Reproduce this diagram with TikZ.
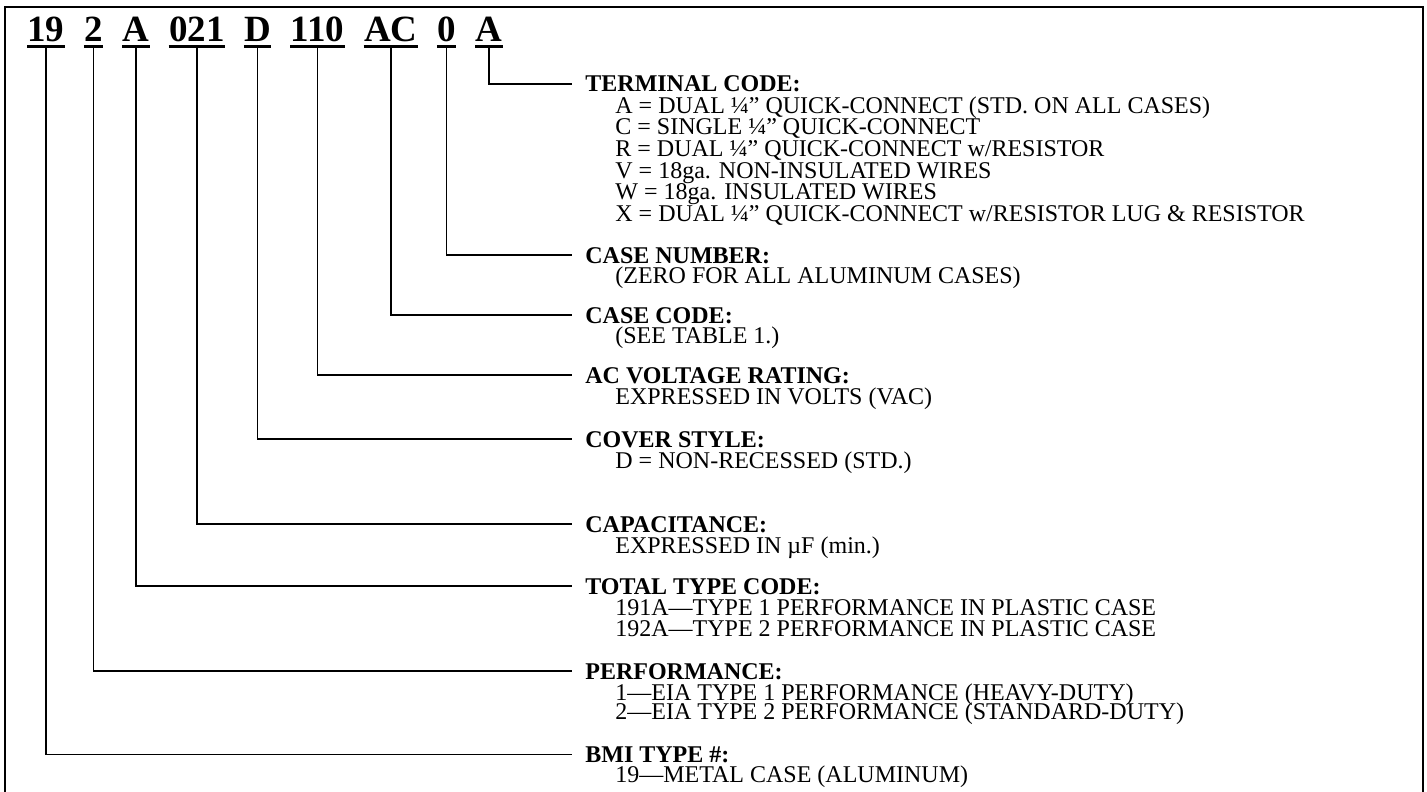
\documentclass[tikz,border=0pt]{standalone}
\usepackage{fontspec}
\setmainfont{Liberation Serif}
\usetikzlibrary{positioning}

\begin{document}
\begin{tikzpicture}[x=0.5pt,y=-0.5pt]
  \tikzstyle{codebox}=[inner sep=0pt,font=\fontsize{18.5}{22}\selectfont\bfseries]
  \tikzstyle{ttl}=[inner xsep=6.5pt,inner ysep=0pt,anchor=base west,font=\fontsize{12}{12}\selectfont\bfseries]
  \tikzstyle{itm}=[inner sep=0pt,font=\fontsize{12}{12}\selectfont]
  \tikzstyle{uline}=[line width=1.5pt]
  \tikzstyle{wire}=[line width=0.8pt]
  \tikzstyle{boxline}=[line width=1pt]
  \useasboundingbox (0,0) rectangle (1427,791);
  \draw[boxline] (5,820) -- (5,7) -- (1423,7) -- (1423,820);
  % part number
  \node[codebox,anchor=base west] (c1) at (27,42) {19};
  \node[codebox,base right=9.5pt of c1] (c2) {2};
  \node[codebox,base right=9.5pt of c2] (c3) {A};
  \node[codebox,base right=9.5pt of c3] (c4) {021};
  \node[codebox,base right=9.5pt of c4] (c5) {D};
  \node[codebox,base right=9.5pt of c5] (c6) {110};
  \node[codebox,base right=9.5pt of c6] (c7) {AC};
  \node[codebox,base right=9.5pt of c7] (c8) {0};
  \node[codebox,base right=9.5pt of c8] (c9) {A};
  \foreach \c in {c1,c2,c3,c4,c5,c6,c7,c8,c9}
    \draw[uline] ([yshift=-2pt]\c.south west) -- ([yshift=-2pt]\c.south east);
  % terminal code
  \node[ttl] (t1) at (572,92) {TERMINAL CODE:};
  \node[itm,below right=10.75pt and 21.5pt of t1.base west,anchor=base west] (t1a) {A = DUAL ¼” QUICK-CONNECT (STD. ON ALL CASES)};
  \node[itm,below=10.75pt of t1a.base west,anchor=base west] (t1b) {C = SINGLE ¼” QUICK-CONNECT};
  \node[itm,below=10.75pt of t1b.base west,anchor=base west] (t1c) {R = DUAL ¼” QUICK-CONNECT w/RESISTOR};
  \node[itm,below=10.75pt of t1c.base west,anchor=base west] (t1d) {V = 18ga. NON-INSULATED WIRES};
  \node[itm,below=10.75pt of t1d.base west,anchor=base west] (t1e) {W = 18ga. INSULATED WIRES};
  \node[itm,below=10.75pt of t1e.base west,anchor=base west] (t1f) {X = DUAL ¼” QUICK-CONNECT w/RESISTOR LUG \& RESISTOR};
  % case number
  \node[ttl] (t2) at (572,263) {CASE NUMBER:};
  \node[itm,below right=10pt and 21.5pt of t2.base west,anchor=base west] (t2a) {(ZERO FOR ALL ALUMINUM CASES)};
  % case code
  \node[ttl] (t3) at (572,323) {CASE CODE:};
  \node[itm,below right=10pt and 21.5pt of t3.base west,anchor=base west] (t3a) {(SEE TABLE 1.)};
  % voltage
  \node[ttl] (t4) at (572,383) {AC VOLTAGE RATING:};
  \node[itm,below right=10.5pt and 21.5pt of t4.base west,anchor=base west] (t4a) {EXPRESSED IN VOLTS (VAC)};
  % cover
  \node[ttl] (t5) at (572,447) {COVER STYLE:};
  \node[itm,below right=10.5pt and 21.5pt of t5.base west,anchor=base west] (t5a) {D = NON-RECESSED (STD.)};
  % capacitance
  \node[ttl] (t6) at (572,532) {CAPACITANCE:};
  \node[itm,below right=10.5pt and 21.5pt of t6.base west,anchor=base west] (t6a) {EXPRESSED IN µF (min.)};
  % total type
  \node[ttl] (t7) at (572,594) {TOTAL TYPE CODE:};
  \node[itm,below right=10.5pt and 21.5pt of t7.base west,anchor=base west] (t7a) {191A—TYPE 1 PERFORMANCE IN PLASTIC CASE};
  \node[itm,below=10.5pt of t7a.base west,anchor=base west] (t7b) {192A—TYPE 2 PERFORMANCE IN PLASTIC CASE};
  % performance
  \node[ttl] (t8) at (572,679) {PERFORMANCE:};
  \node[itm,below right=10.5pt and 21.5pt of t8.base west,anchor=base west] (t8a) {1—EIA TYPE 1 PERFORMANCE (HEAVY-DUTY)};
  \node[itm,below=9.5pt of t8a.base west,anchor=base west] (t8b) {2—EIA TYPE 2 PERFORMANCE (STANDARD-DUTY)};
  % bmi type
  \node[ttl] (t9) at (572,762) {BMI TYPE \#:};
  \node[itm,below right=10pt and 21.5pt of t9.base west,anchor=base west] (t9a) {19—METAL CASE (ALUMINUM)};
  % leaders
  \draw[wire] ([yshift=-2pt]c9.south) |- (t1.west);
  \draw[wire] ([yshift=-2pt]c8.south) |- (t2.west);
  \draw[wire] ([yshift=-2pt]c7.south) |- (t3.west);
  \draw[wire] ([yshift=-2pt]c6.south) |- (t4.west);
  \draw[wire] ([yshift=-2pt]c5.south) |- (t5.west);
  \draw[wire] ([yshift=-2pt]c4.south) |- (t6.west);
  \draw[wire] ([yshift=-2pt]c3.south) |- (t7.west);
  \draw[wire] ([yshift=-2pt]c2.south) |- (t8.west);
  \draw[wire] ([yshift=-2pt]c1.south) |- (t9.west);
\end{tikzpicture}
\end{document}
